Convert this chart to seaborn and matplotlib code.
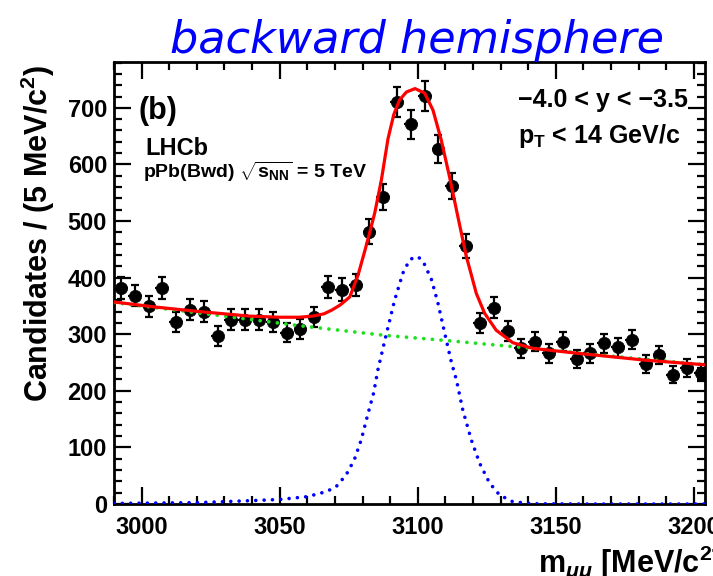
import matplotlib
matplotlib.use("Agg")
import matplotlib.pyplot as plt
from matplotlib.ticker import MultipleLocator
import seaborn as sns

# ---- data ----
# bin centres (5 MeV bins) and candidates per bin
mass = [2992.5, 2997.5, 3002.5, 3007.5, 3012.5, 3017.5, 3022.5, 3027.5, 3032.5,
        3037.5, 3042.5, 3047.5, 3052.5, 3057.5, 3062.5, 3067.5, 3072.5, 3077.5,
        3082.5, 3087.5, 3092.5, 3097.5, 3102.5, 3107.5, 3112.5, 3117.5, 3122.5,
        3127.5, 3132.5, 3137.5, 3142.5, 3147.5, 3152.5, 3157.5, 3162.5, 3167.5,
        3172.5, 3177.5, 3182.5, 3187.5, 3192.5, 3197.5, 3202.5]
counts = [381, 368, 349, 381, 322, 343, 340, 297, 326, 326, 326, 322, 303, 309,
          330, 384, 379, 387, 481, 543, 711, 671, 721, 627, 562, 456, 320, 347,
          306, 275, 287, 266, 287, 256, 266, 284, 277, 290, 247, 263, 228, 240, 232]
err = [19.5, 19, 19, 19.5, 18, 18.5, 18.5, 17, 18, 18, 18, 18, 17.5, 17.5, 18,
       19.5, 19.5, 19.5, 22, 23, 26.5, 26, 27, 25, 23.5, 21.5, 18, 18.5, 17.5,
       16.5, 17, 16.5, 17, 16, 16.5, 17, 16.5, 17, 15.5, 16, 15, 15.5, 15]
bin_half = 2.5

# fit components, sampled along the drawn curves
sig_m = [2990, 3021, 3040, 3050, 3060, 3067, 3070.5, 3074, 3077, 3079.5, 3082,
         3084, 3085.6, 3088.4, 3091.6, 3094.6, 3097, 3099, 3100.5, 3102, 3105,
         3107.3, 3110.3, 3112.2, 3114, 3116.3, 3119.4, 3122.4, 3126, 3129.6,
         3134.4, 3141.6, 3160, 3204]
sig_v = [1, 2.5, 6, 8, 13, 22, 31, 51, 78, 113, 160, 196, 238, 296, 360, 408,
         431, 437, 435, 428, 396, 355, 290, 250, 219, 166, 113, 72, 37, 16, 4,
         0.5, 0, 0]

bkg_m = [2990, 3020, 3059, 3088, 3110, 3141.6, 3175, 3204]
bkg_v = [356, 338, 314, 298, 289, 275, 259, 246]

tot_m = [2990, 3005, 3021, 3039, 3050, 3057, 3062, 3066, 3069, 3072, 3075.4,
         3078.4, 3080.8, 3082.5, 3084.4, 3086.8, 3089.2, 3091.3, 3093.4, 3095.9,
         3099, 3102.5, 3105.5, 3108.5, 3111.5, 3114.5, 3117.6, 3119, 3121.2,
         3124.2, 3128.4, 3134.4, 3141.6, 3158.5, 3182.7, 3204]
tot_v = [357, 348, 340, 332, 330, 330, 332, 336, 343, 352, 366, 405, 447, 478,
         514, 572, 645, 688, 714, 728, 734, 726, 696, 643, 578, 508, 437, 412,
         372, 337, 307, 285, 275, 266, 254, 246]

W, H = 713, 576


def fx(px):
    return px / W


def fy(py):
    return 1 - py / H


sns.set_style("ticks")
plt.rcParams['font.family'] = ['Liberation Sans', 'DejaVu Sans']
plt.rcParams['font.weight'] = 'bold'
plt.rcParams['text.color'] = 'black'
plt.rcParams['axes.labelcolor'] = 'black'
plt.rcParams['xtick.color'] = 'black'
plt.rcParams['ytick.color'] = 'black'
plt.rcParams['mathtext.fontset'] = 'custom'
plt.rcParams['mathtext.rm'] = 'Liberation Sans:bold'
plt.rcParams['mathtext.bf'] = 'Liberation Sans:bold'
plt.rcParams['mathtext.it'] = 'Liberation Sans:italic'
plt.rcParams['mathtext.default'] = 'rm'

fig = plt.figure(figsize=(W / 100, H / 100), dpi=100)
ax = fig.add_axes([fx(114), fy(504), (705 - 114) / W, (504 - 62) / H])

# data points
ax.errorbar(mass, counts, yerr=err, fmt='none', ecolor='black',
            elinewidth=1.6, capsize=3, capthick=1.6, zorder=2)
ax.errorbar(mass, counts, xerr=bin_half, fmt='none', ecolor='black',
            elinewidth=1.6, capsize=0, zorder=2)
sns.scatterplot(x=mass, y=counts, ax=ax, color='black', s=78,
                edgecolor='black', linewidth=0.5, zorder=3, legend=False)

# fit curves
sns.lineplot(x=bkg_m, y=bkg_v, ax=ax, color='#1fe01f', lw=2.7, zorder=4)
sns.lineplot(x=sig_m, y=sig_v, ax=ax, color='#0000ff', lw=2.6, zorder=4)
for ln in ax.get_lines()[-2:]:
    ln.set_dashes((0.01, 2.3))
    ln.set_dash_capstyle('round')
sns.lineplot(x=tot_m, y=tot_v, ax=ax, color='#ff0000', lw=2.3, zorder=5)

ax.set_xlim(2990, 3204)
ax.set_ylim(0, 781)
ax.set_xlabel('')
ax.set_ylabel('')
ax.xaxis.set_major_locator(MultipleLocator(50))
ax.xaxis.set_minor_locator(MultipleLocator(10))
ax.yaxis.set_major_locator(MultipleLocator(100))
ax.yaxis.set_minor_locator(MultipleLocator(20))
ax.tick_params(which='both', direction='in', top=True, right=True,
               width=1.6, colors='black', labelsize=17)
ax.tick_params(which='major', length=12)
ax.tick_params(which='minor', length=6)
ax.tick_params(axis='x', pad=9)
ax.tick_params(axis='y', pad=5)
for lab in ax.get_xticklabels() + ax.get_yticklabels():
    lab.set_fontweight('bold')
for sp in ax.spines.values():
    sp.set_linewidth(2)
    sp.set_color('black')

# texts
fig.text(fx(417), fy(53), 'backward hemisphere', color='#0000ff',
         fontsize=32, style='italic', fontweight='normal',
         family='DejaVu Sans', ha='center', va='baseline')
fig.text(fx(139), fy(119), '(b)', fontsize=22, fontweight='bold', va='baseline')
fig.text(fx(145), fy(155), 'LHCb', fontsize=17, fontweight='bold', va='baseline')
fig.text(fx(143), fy(178), r'pPb(Bwd) $\sqrt{s_{NN}}$ = 5 TeV', fontsize=14,
         fontweight='bold', va='baseline')
fig.text(fx(518), fy(107), '\u22124.0 < y < \u22123.5', fontsize=18,
         fontweight='bold', va='baseline')
fig.text(fx(518), fy(143), r'p$_{T}$ < 14 GeV/c', fontsize=18,
         fontweight='bold', va='baseline')
fig.text(fx(38), fy(233), r'Candidates / (5 MeV/c$^{2}$)', fontsize=22,
         fontweight='bold', rotation=90, ha='center', va='center')
fig.text(fx(538), fy(572), r'm$_{\mathit{μμ}}$ [MeV/c$^{2}$]', fontsize=22,
         fontweight='bold', va='baseline')

fig.savefig('out.png', dpi=100)
